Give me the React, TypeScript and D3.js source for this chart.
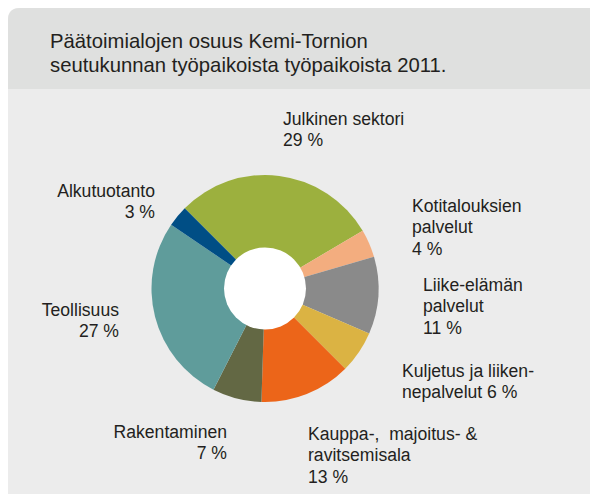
import React from 'react';
import * as d3 from 'd3';

// Data: share of main industries of jobs in Kemi-Tornio sub-region, 2011
const categories = [
  'Julkinen sektori',
  'Kotitalouksien palvelut',
  'Liike-elämän palvelut',
  'Kuljetus ja liikennepalvelut',
  'Kauppa-, majoitus- & ravitsemisala',
  'Rakentaminen',
  'Teollisuus',
  'Alkutuotanto',
];
const values = [29, 4, 11, 6, 13, 7, 27, 3];
const colors = ['#9cb03e', '#f3ad7f', '#8a8a8a', '#dbb343', '#ec6519', '#636844', '#5f9c9b', '#004e85'];
const labelLines = [
  ['Julkinen sektori', '29 %'],
  ['Kotitalouksien', 'palvelut', '4 %'],
  ['Liike-elämän', 'palvelut', '11 %'],
  ['Kuljetus ja liiken-', 'nepalvelut 6 %'],
  ['Kauppa-,  majoitus- &', 'ravitsemisala', '13 %'],
  ['Rakentaminen', '7 %'],
  ['Teollisuus', '27 %'],
  ['Alkutuotanto', '3 %'],
];
const titleLines = ['Päätoimialojen osuus Kemi-Tornion', 'seutukunnan työpaikoista työpaikoista 2011.'];

// label anchors (layout only)
const labelPos = [
  { x: 283, y: 125, anchor: 'start' },
  { x: 412, y: 212, anchor: 'start' },
  { x: 423, y: 291, anchor: 'start' },
  { x: 402, y: 377, anchor: 'start' },
  { x: 308, y: 440, anchor: 'start' },
  { x: 227, y: 438, anchor: 'end' },
  { x: 119, y: 316, anchor: 'end' },
  { x: 155, y: 197, anchor: 'end' },
];

const width = 590;
const height = 495;
const cx = 265;
const cy = 288.5;
const outerR = 113.5;
const innerR = 41;
const font = '"Liberation Sans", Arial, sans-serif';
const textColor = '#231f20';

export default function App() {
  const start = -Math.PI / 4;
  const pie = d3
    .pie<number>()
    .sort(null)
    .startAngle(start)
    .endAngle(start + 2 * Math.PI);
  const arcs = pie(values);
  const arc = d3.arc<d3.PieArcDatum<number>>().innerRadius(0).outerRadius(outerR);

  return (
    <svg
      width={width}
      height={height}
      style={{ position: 'absolute', left: 0, top: 0, display: 'block' }}
    >
      <rect width={width} height={height} fill="#ffffff" />
      {/* panel body */}
      <path d="M8,494 L8,20 Q8,8 20,8 L590,8 L590,494 Z" fill="#ececec" />
      {/* header */}
      <path d="M8,89 L8,20 Q8,8 20,8 L590,8 L590,89 Z" fill="#dfe0df" />

      {titleLines.map((t, i) => (
        <text
          key={t}
          x={50}
          y={47.5 + i * 24}
          fontFamily={font}
          fontSize={20.3}
          fill={textColor}
        >
          {t}
        </text>
      ))}

      <g transform={`translate(${cx},${cy})`}>
        {arcs.map((a, i) => (
          <path key={categories[i]} d={arc(a) || ''} fill={colors[i]} />
        ))}
        <circle r={innerR} fill="#ffffff" />
      </g>

      {labelLines.map((lines, i) => (
        <text
          key={categories[i]}
          x={labelPos[i].x}
          y={labelPos[i].y}
          textAnchor={labelPos[i].anchor}
          fontFamily={font}
          fontSize={17.6}
          fill={textColor}
          style={{ whiteSpace: 'pre' }}
        >
          {lines.map((l, j) => (
            <tspan key={j} x={labelPos[i].x} dy={j === 0 ? 0 : 21.3}>
              {l}
            </tspan>
          ))}
        </text>
      ))}
    </svg>
  );
}
